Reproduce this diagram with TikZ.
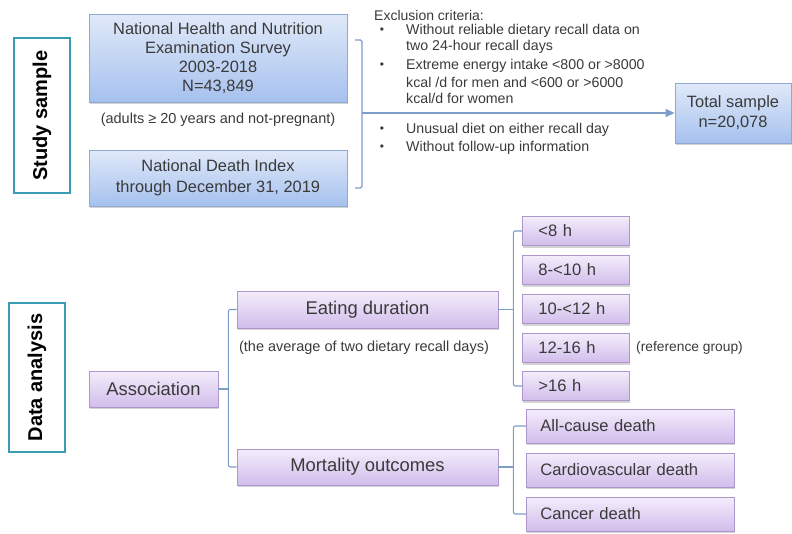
\documentclass[tikz,border=0pt]{standalone}
\usepackage{fontspec}
\setmainfont{Liberation Sans}
\usetikzlibrary{positioning, calc, shadows, arrows.meta}

\definecolor{boxblueT}{HTML}{E0E9F9}
\definecolor{boxblueB}{HTML}{A6C1EE}
\definecolor{edgeblue}{HTML}{8FA8D4}
\definecolor{boxpurT}{HTML}{F4EDFB}
\definecolor{boxpurB}{HTML}{D1BDEB}
\definecolor{edgepur}{HTML}{AC96CB}
\definecolor{linkblue}{HTML}{7C9DC7}
\definecolor{tealframe}{HTML}{3A9CB3}
\definecolor{inkgray}{HTML}{3A3A3A}

\begin{document}
\begin{tikzpicture}[x=1pt, y=-1pt,
    bluebox/.style={draw=edgeblue, line width=0.8pt, top color=boxblueT, bottom color=boxblueB,
        text=inkgray, align=center, inner sep=2pt,
        drop shadow={shadow xshift=1pt, shadow yshift=-2pt, opacity=0.35}},
    purbox/.style={draw=edgepur, line width=0.8pt, top color=boxpurT, bottom color=boxpurB,
        text=inkgray, inner sep=2pt,
        drop shadow={shadow xshift=1pt, shadow yshift=-2pt, opacity=0.35}},
    sidelabel/.style={draw=tealframe, line width=2.6pt, rotate=90, inner sep=0pt,
        font=\fontsize{20}{24}\selectfont\bfseries},
    note/.style={text=inkgray, inner sep=0pt},
    link/.style={draw=linkblue, line width=1.1pt}]

    % Fix the page size
    \useasboundingbox (0,0) rectangle (792,533);

    % Section labels on the left
    \node[sidelabel, minimum width=155, minimum height=56] (study) at (42,115.5) {Study sample};
    \node[sidelabel, minimum width=149, minimum height=56] (analysis) at (37,377.5) {Data analysis};

    % Study sample: data sources
    \node[bluebox, minimum width=258, minimum height=88, font=\fontsize{16.4}{19}\selectfont] (nhanes) at (218,58)
        {National Health and Nutrition\\Examination Survey\\2003-2018\\N=43,849};
    \node[note, font=\fontsize{14.5}{17}\selectfont] (adults) at (218,120) {(adults ≥ 20 years and not-pregnant)};
    \node[bluebox, minimum width=258, minimum height=56, font=\fontsize{16.4}{19}\selectfont] (ndi) at (218,178)
        {National Death Index\\[2pt]through December 31, 2019};

    % Total sample box
    \node[bluebox, minimum width=116, minimum height=60, font=\fontsize{16.4}{20}\selectfont] (total) at (733,113)
        {Total sample\\n=20,078};

    % Bracket joining both sources, arrow to the total sample
    \coordinate (brtop) at (355,40);
    \coordinate (brbot) at (355,188);
    \coordinate (brmid) at (362,113);
    \draw[link, rounded corners=1.5pt] (brtop) -| (brmid) |- (brbot);
    \draw[link, -{Triangle[length=9pt, width=8pt]}] (brmid) -- (total.west);

    % Exclusion criteria
    \node[note, anchor=west, font=\fontsize{14}{16}\selectfont] (exhead) at (374,15) {Exclusion criteria:};
    \foreach \yy/\bul/\txt [count=\i] in {31/1/{Without reliable dietary recall data on},
            47/0/{two 24-hour recall days},
            66/1/{Extreme energy intake <800 or >8000},
            82/0/{kcal /d for men and <600 or >6000},
            98/0/{kcal/d for women},
            130/1/{Unusual diet on either recall day},
            148/1/{Without follow-up information}} {
        \node[note, anchor=west, font=\fontsize{14.2}{16}\selectfont] (crit\i) at (406,\yy) {\txt};
        \ifnum\bul=1
            \node[note, font=\fontsize{12}{12}\selectfont] (dot\i) at (382,\yy) {\textbullet};
        \fi
    }

    % Data analysis: association tree
    \node[purbox, minimum width=129, minimum height=36, font=\fontsize{18.4}{22}\selectfont] (assoc) at (153.5,389) {Association};
    \node[purbox, minimum width=261, minimum height=37, font=\fontsize{18.4}{22}\selectfont] (eating) at (367.5,309.5) {Eating duration};
    \node[note, font=\fontsize{14.5}{17}\selectfont] (avg) at (364,348) {(the average of two dietary recall days)};
    \node[purbox, minimum width=261, minimum height=36, font=\fontsize{18.4}{22}\selectfont] (mort) at (367.5,467) {Mortality outcomes};

    \draw[link] (assoc.east) -- ++(10,0);
    \draw[link, rounded corners=2pt] (eating.west) -| ($(assoc.east)+(10,0)$) |- (mort.west);

    % Eating duration groups
    \foreach \yy/\lab [count=\i] in {231/{<8 h}, 270/{8-<10 h}, 309/{10-<12 h}, 348/{12-16 h}, 386/{>16 h}} {
        \node[purbox, anchor=west, text width=75, inner xsep=16, minimum height=29, align=left,
            font=\fontsize{16.6}{19}\selectfont] (dur\i) at (522,\yy) {\lab};
    }
    \node[note, anchor=west, font=\fontsize{13.8}{16}\selectfont] (refgrp) at (636,348) {(reference group)};
    \draw[link] (eating.east) -- ++(15,0);
    \draw[link, rounded corners=2pt] (dur1.west) -| ($(eating.east)+(15,0)$) |- (dur5.west);

    % Mortality outcomes
    \foreach \yy/\lab [count=\i] in {426/{All-cause death}, 470/{Cardiovascular death}, 514/{Cancer death}} {
        \node[purbox, anchor=west, text width=180, inner xsep=14, minimum height=34, align=left,
            font=\fontsize{16.6}{19}\selectfont] (out\i) at (526,\yy) {\lab};
    }
    \draw[link] (mort.east) -- ++(15,0);
    \draw[link, rounded corners=2pt] (out1.west) -| ($(mort.east)+(15,0)$) |- (out3.west);
\end{tikzpicture}
\end{document}
